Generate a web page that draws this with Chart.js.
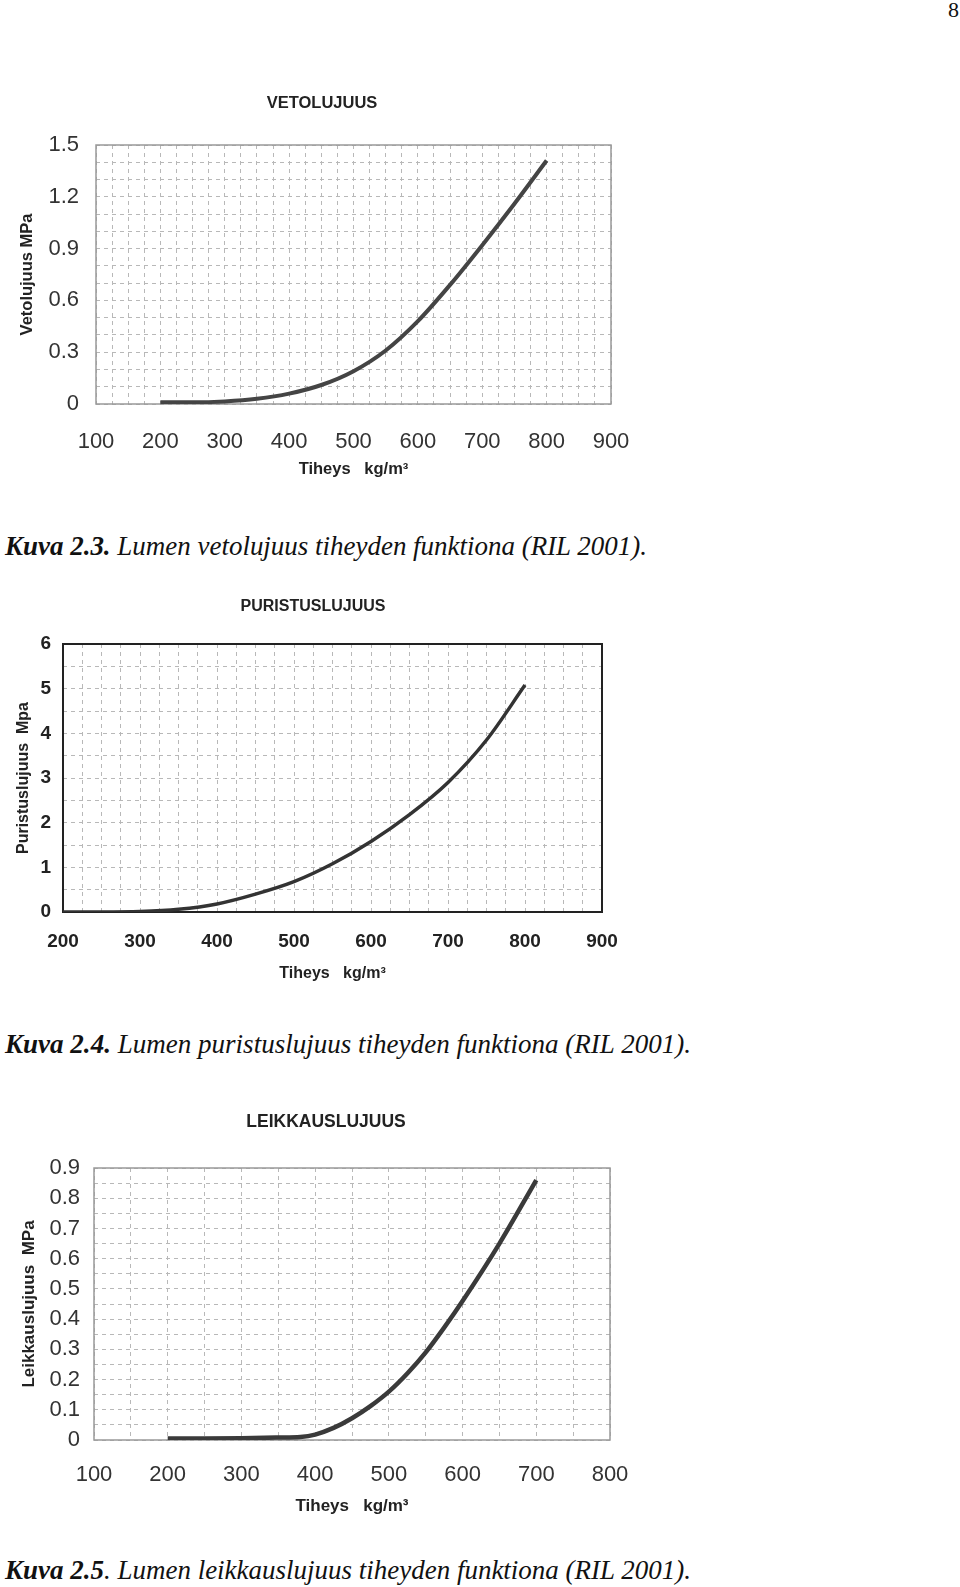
<!DOCTYPE html>
<html>
<head>
<meta charset="utf-8">
<script src="https://cdn.jsdelivr.net/npm/chart.js@4.4.1/dist/chart.umd.min.js"></script>
<style>
  body { margin: 0; width: 960px; height: 1587px; background: #fff; position: relative; overflow: hidden; }
  .box { position: absolute; left: 0; width: 640px; }
  .cap { position: absolute; left: 5px; font-family: "Liberation Serif", serif; font-style: italic; font-size: 27px;
         line-height: 30px; white-space: nowrap; color: #111; transform-origin: left center; }
  .cap b { font-weight: bold; }
  .pagenum { position: absolute; right: 1px; top: -3px; font-family: "Liberation Serif", serif; font-size: 22px; color: #111; }
</style>
</head>
<body>
<div class="pagenum">8</div>

<div class="box" style="top:80px;height:420px"><canvas id="veto"></canvas></div>
<div class="cap" style="top:531px" data-w="642"><b>Kuva 2.3.</b> Lumen vetolujuus tiheyden funktiona (RIL 2001).</div>

<div class="box" style="top:580px;height:420px"><canvas id="puristus"></canvas></div>
<div class="cap" style="top:1029px" data-w="686"><b>Kuva 2.4.</b> Lumen puristuslujuus tiheyden funktiona (RIL 2001).</div>

<div class="box" style="top:1090px;height:440px"><canvas id="leikkaus"></canvas></div>
<div class="cap" style="top:1555px" data-w="686"><b>Kuva 2.5</b>. Lumen leikkauslujuus tiheyden funktiona (RIL 2001).</div>

<script>
// vetolujuus (MPa) vs tiheys (kg/m3)
const vetoDensity = [200, 250, 300, 350, 400, 450, 500, 550, 600, 650, 700, 750, 800];
const vetoStrength = [0.01, 0.01, 0.015, 0.03, 0.06, 0.11, 0.19, 0.31, 0.48, 0.69, 0.92, 1.16, 1.41];

// puristuslujuus
const puristusDensity = [200, 250, 300, 350, 400, 450, 500, 550, 600, 650, 700, 750, 800];
const puristusStrength = [0, 0, 0.01, 0.06, 0.18, 0.4, 0.68, 1.08, 1.58, 2.18, 2.9, 3.85, 5.08];

// leikkauslujuus
const leikkausDensity = [200, 250, 300, 350, 380, 400, 425, 450, 475, 500, 525, 550, 575, 600, 650, 700];
const leikkausStrength = [0.005, 0.005, 0.006, 0.008, 0.01, 0.018, 0.04, 0.072, 0.112, 0.16, 0.22, 0.29, 0.372, 0.46, 0.65, 0.86];

const vetoXTicks = [100, 200, 300, 400, 500, 600, 700, 800, 900];
const vetoYTicks = [0, 0.3, 0.6, 0.9, 1.2, 1.5];
const puristusXTicks = [200, 300, 400, 500, 600, 700, 800, 900];
const puristusYTicks = [0, 1, 2, 3, 4, 5, 6];
const leikkausXTicks = [100, 200, 300, 400, 500, 600, 700, 800];
const leikkausYTicks = [0, 0.1, 0.2, 0.3, 0.4, 0.5, 0.6, 0.7, 0.8, 0.9];

// plot frame + heading drawn by hand (heading is not centred on the canvas in the scan)
const frame = {
    id: 'frame',
    beforeDatasetsDraw(chart, args, opts) {
        const { ctx, chartArea: a } = chart;
        ctx.save();
        ctx.strokeStyle = opts.color;
        ctx.lineWidth = opts.width;
        ctx.strokeRect(a.left, a.top, a.right - a.left, a.bottom - a.top);
        ctx.restore();
    },
    afterDraw(chart, args, opts) {
        const ctx = chart.ctx;
        ctx.save();
        ctx.font = 'bold ' + opts.titleSize + 'px "Liberation Sans"';
        ctx.fillStyle = '#222';
        ctx.textAlign = 'center';
        ctx.textBaseline = 'middle';
        ctx.fillText(opts.title, opts.titleX, opts.titleY);
        ctx.restore();
    }
};

function isTick(list, v) {
    return list.some(t => Math.abs(t - v) < 1e-6);
}

function makeChart(id, s) {
    const points = s.xs.map((x, i) => ({ x: x, y: s.ys[i] }));
    const gridStyle = { color: '#b8b8b8', lineWidth: 1, drawTicks: false };
    return new Chart(document.getElementById(id), {
        type: 'line',
        data: {
            datasets: [{
                data: points,
                borderColor: s.lineColor,
                borderWidth: s.lineWidth,
                pointRadius: 0,
                cubicInterpolationMode: 'monotone',
                fill: false
            }]
        },
        options: {
            responsive: true,
            maintainAspectRatio: false,
            animation: false,
            layout: { padding: { left: 0, right: s.padRight, top: s.padTop, bottom: 0 } },
            plugins: {
                legend: { display: false },
                tooltip: { enabled: false },
                title: { display: false },
                frame: {
                    color: s.frameColor, width: s.frameWidth,
                    title: s.title, titleSize: s.titleSize, titleX: s.titleX, titleY: s.titleY
                }
            },
            scales: {
                x: {
                    type: 'linear',
                    min: s.xTicks[0],
                    max: s.xTicks[s.xTicks.length - 1],
                    grid: gridStyle,
                    border: { display: false, dash: [4, 4] },
                    afterFit: sc => { sc.height = s.xHeight; sc.paddingLeft = 0; sc.paddingRight = 0; },
                    ticks: {
                        stepSize: s.xMinor,
                        maxTicksLimit: 200,
                        autoSkip: false,
                        maxRotation: 0,
                        padding: s.xTickPad,
                        color: s.tickColor,
                        font: { family: 'Liberation Sans', size: s.tickSize, weight: s.tickWeight },
                        callback: v => isTick(s.xTicks, v) ? String(v) : ''
                    },
                    title: {
                        display: true,
                        text: 'Tiheys   kg/m³',
                        color: '#222',
                        font: { family: 'Liberation Sans', size: s.axisTitleSize, weight: 'bold' },
                        padding: { top: 0, bottom: s.xTitlePad }
                    }
                },
                y: {
                    min: 0,
                    max: s.yTicks[s.yTicks.length - 1],
                    grid: gridStyle,
                    border: { display: false, dash: [4, 4] },
                    afterFit: sc => { sc.width = s.yWidth; sc.paddingTop = 0; sc.paddingBottom = 0; },
                    ticks: {
                        stepSize: s.yMinor,
                        maxTicksLimit: 200,
                        autoSkip: false,
                        padding: s.yTickPad,
                        color: s.tickColor,
                        font: { family: 'Liberation Sans', size: s.tickSize, weight: s.tickWeight },
                        callback: v => isTick(s.yTicks, v) ? (v === 0 ? '0' : String(+v.toFixed(1))) : ''
                    },
                    title: {
                        display: true,
                        text: s.yTitle,
                        color: '#222',
                        font: { family: 'Liberation Sans', size: s.axisTitleSize, weight: 'bold' },
                        padding: { top: s.yTitlePad, bottom: 0 }
                    }
                }
            }
        },
        plugins: [frame]
    });
}

makeChart('veto', {
    xs: vetoDensity, ys: vetoStrength, xTicks: vetoXTicks, yTicks: vetoYTicks,
    xMinor: 25, yMinor: 0.1,
    title: 'VETOLUJUUS', yTitle: 'Vetolujuus MPa',
    titleSize: 16.5, titleX: 322, titleY: 23,
    axisTitleSize: 16.5, tickSize: 22, tickWeight: 'normal', tickColor: '#333',
    padTop: 65, padRight: 29, xHeight: 96, yWidth: 96,
    xTickPad: 25, yTickPad: 17, xTitlePad: 21, yTitlePad: 18,
    frameColor: '#999', frameWidth: 1.5,
    lineColor: '#444', lineWidth: 4
});

makeChart('puristus', {
    xs: puristusDensity, ys: puristusStrength, xTicks: puristusXTicks, yTicks: puristusYTicks,
    xMinor: 25, yMinor: 0.5,
    title: 'PURISTUSLUJUUS', yTitle: 'Puristuslujuus  Mpa',
    titleSize: 16, titleX: 313, titleY: 27,
    axisTitleSize: 16, tickSize: 19, tickWeight: 'bold', tickColor: '#222',
    padTop: 64, padRight: 38, xHeight: 88, yWidth: 63,
    xTickPad: 18, yTickPad: 12, xTitlePad: 17, yTitlePad: 14,
    frameColor: '#222', frameWidth: 2,
    lineColor: '#333', lineWidth: 3.5
});

makeChart('leikkaus', {
    xs: leikkausDensity, ys: leikkausStrength, xTicks: leikkausXTicks, yTicks: leikkausYTicks,
    xMinor: 50, yMinor: 0.05,
    title: 'LEIKKAUSLUJUUS', yTitle: 'Leikkauslujuus  MPa',
    titleSize: 17.5, titleX: 326, titleY: 32,
    axisTitleSize: 17, tickSize: 22, tickWeight: 'normal', tickColor: '#333',
    padTop: 78, padRight: 30, xHeight: 90, yWidth: 94,
    xTickPad: 22, yTickPad: 14, xTitlePad: 13, yTitlePad: 19,
    frameColor: '#999', frameWidth: 1.5,
    lineColor: '#3a3a3a', lineWidth: 4.5
});

// squeeze captions to the scanned width
document.querySelectorAll('.cap').forEach(el => {
    const w = el.getBoundingClientRect().width;
    el.style.transform = 'scaleX(' + (+el.dataset.w / w) + ')';
});
</script>
</body>
</html>
